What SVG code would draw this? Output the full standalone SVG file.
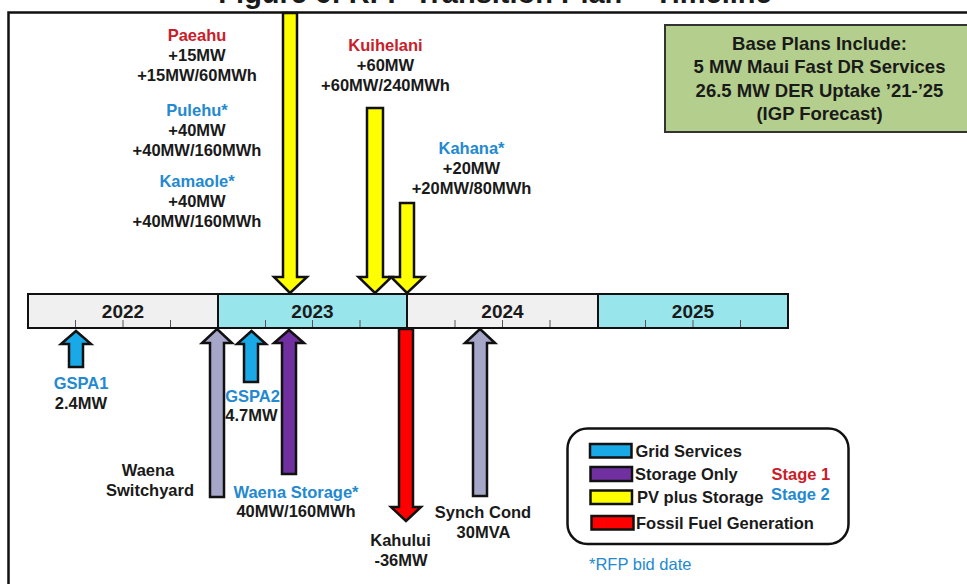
<svg xmlns="http://www.w3.org/2000/svg" width="967" height="584" viewBox="0 0 967 584">
<style>
text{font-family:"Liberation Sans",Arial,sans-serif;font-weight:bold;fill:#1a1a1a}
.c{text-anchor:middle}
.f{font-size:16.5px}
.red{fill:#c8202a}
.blue{fill:#2389d0}
.yr{font-size:19px}
.arr{stroke:#111;stroke-width:2.5;stroke-linejoin:miter}
.yel{fill:#ffff00}
.gs{fill:#19a9e6}
.st{fill:#7030a0}
.lav{fill:#a6a6c8}
.ff{fill:#ff0000}
.seg{stroke:#111;stroke-width:2}
.g{fill:#f0f0f0}
.cy{fill:#98e5ec}
.tick{stroke:#555;stroke-width:1}
</style>
<rect x="0" y="0" width="967" height="584" fill="#ffffff"/>
<text id="title" x="495" y="2.5" class="c" style="font-size:29px">Figure 6: RFP Transition Plan – Timeline</text>
<rect id="frame" x="8.5" y="12.5" width="1000" height="600" fill="none" stroke="#111" stroke-width="2.5"/>

<g id="base-plans">
<rect x="665" y="25" width="320" height="107" fill="#b4cf8d" stroke="#333" stroke-width="2"/>
<text x="819.5" y="50" class="c" style="font-size:18.5px">Base Plans Include:</text>
<text x="819.5" y="73" class="c" style="font-size:18.5px">5 MW Maui Fast DR Services</text>
<text x="819.5" y="97" class="c" style="font-size:18.5px">26.5 MW DER Uptake ’21-’25</text>
<text x="819.5" y="120" class="c" style="font-size:18.5px">(IGP Forecast)</text>
</g>

<g id="timeline">
<rect x="28" y="294" width="190" height="34" class="seg g"/>
<rect x="218" y="294" width="189" height="34" class="seg cy"/>
<rect x="407" y="294" width="191" height="34" class="seg g"/>
<rect x="598" y="294" width="190" height="34" class="seg cy"/>
<g class="tick">
<line x1="75.5" y1="320" x2="75.5" y2="327"/><line x1="123" y1="320" x2="123" y2="327"/><line x1="170.5" y1="320" x2="170.5" y2="327"/>
<line x1="265.5" y1="320" x2="265.5" y2="327"/><line x1="312.5" y1="320" x2="312.5" y2="327"/><line x1="360" y1="320" x2="360" y2="327"/>
<line x1="455" y1="320" x2="455" y2="327"/><line x1="502.5" y1="320" x2="502.5" y2="327"/><line x1="550" y1="320" x2="550" y2="327"/>
<line x1="645.5" y1="320" x2="645.5" y2="327"/><line x1="693" y1="320" x2="693" y2="327"/><line x1="740.5" y1="320" x2="740.5" y2="327"/>
</g>
<text x="123" y="318" class="c yr">2022</text>
<text x="312.5" y="318" class="c yr">2023</text>
<text x="502.5" y="318" class="c yr">2024</text>
<text x="693" y="318" class="c yr">2025</text>
</g>

<g id="connectors">
<polygon class="arr yel" points="283,13 297,13 297,277 307,277 290,293 274,277 283,277"/>
<polygon class="arr yel" points="367,108 383,108 383,277 391.5,277 375,293 358.5,277 367,277"/>
<polygon class="arr yel" points="400,203 414,203 414,277 424,277 407,293 391,277 400,277"/>
<polygon class="arr gs" points="76,331 91,344 83,344 83,367 69,367 69,344 61,344"/>
<polygon class="arr lav" points="217,329 232,343 224,343 224,497 210,497 210,343 202,343"/>
<polygon class="arr gs" points="251.5,331 266,344 258,344 258,382 244,382 244,344 237,344"/>
<polygon class="arr st" points="289,330 304,343 296,343 296,474 282,474 282,343 274,343"/>
<polygon class="arr ff" points="399,329 413,329 413,507 421,507 406,521 391,507 399,507"/>
<polygon class="arr lav" points="480,329 495,343 487,343 487,496 473,496 473,343 465,343"/>
</g>

<g id="paeahu">
<text x="197" y="40.5" class="c f red">Paeahu</text>
<text x="197" y="60.5" class="c f">+15MW</text>
<text x="197" y="80.5" class="c f">+15MW/60MWh</text>
</g>
<g id="pulehu">
<text x="197" y="115.5" class="c f blue">Pulehu*</text>
<text x="197" y="135.5" class="c f">+40MW</text>
<text x="197" y="155.5" class="c f">+40MW/160MWh</text>
</g>
<g id="kamaole">
<text x="197" y="187" class="c f blue">Kamaole*</text>
<text x="197" y="207" class="c f">+40MW</text>
<text x="197" y="227" class="c f">+40MW/160MWh</text>
</g>
<g id="kuihelani">
<text x="385.5" y="51" class="c f red">Kuihelani</text>
<text x="385.5" y="71" class="c f">+60MW</text>
<text x="385.5" y="91" class="c f">+60MW/240MWh</text>
</g>
<g id="kahana">
<text x="471.5" y="153.5" class="c f blue">Kahana*</text>
<text x="471.5" y="173.5" class="c f">+20MW</text>
<text x="471.5" y="193.5" class="c f">+20MW/80MWh</text>
</g>

<g id="gspa1">
<text x="81" y="389" class="c f blue">GSPA1</text>
<text x="81" y="408.5" class="c f">2.4MW</text>
</g>
<g id="gspa2">
<text x="252.5" y="401.5" class="c f blue">GSPA2</text>
<text x="251.5" y="421" class="c f">4.7MW</text>
</g>
<g id="waena-switchyard">
<text x="148" y="476" class="c f">Waena</text>
<text x="150" y="496" class="c f">Switchyard</text>
</g>
<g id="waena-storage">
<text x="296" y="497.5" class="c f blue">Waena Storage*</text>
<text x="296" y="517" class="c f">40MW/160MWh</text>
</g>
<g id="kahului">
<text x="400.5" y="546" class="c f">Kahului</text>
<text x="401" y="566" class="c f">-36MW</text>
</g>
<g id="synch-cond">
<text x="483" y="517.5" class="c f">Synch Cond</text>
<text x="483.5" y="537.5" class="c f">30MVA</text>
</g>

<g id="legend">
<rect x="567.5" y="428.5" width="281" height="115.5" rx="20" ry="20" fill="#fff" stroke="#111" stroke-width="2.5"/>
<rect x="590" y="444" width="41.5" height="13.5" class="gs" stroke="#111" stroke-width="2.5"/>
<rect x="590.5" y="467" width="41.5" height="14" class="st" stroke="#111" stroke-width="2.5"/>
<rect x="590.5" y="490.5" width="41.5" height="13.5" class="yel" stroke="#111" stroke-width="2.5"/>
<rect x="591.5" y="516" width="42" height="13.5" class="ff" stroke="#111" stroke-width="2.5"/>
<text x="635.5" y="457" class="f">Grid Services</text>
<text x="635" y="479.5" class="f">Storage Only</text>
<text x="637" y="503" class="f">PV plus Storage</text>
<text x="636" y="528.5" class="f">Fossil Fuel Generation</text>
<text x="771.5" y="479.5" class="f red">Stage 1</text>
<text x="771" y="500" class="f blue">Stage 2</text>
</g>
<text id="rfp-note" x="589" y="570" class="f blue" style="font-weight:normal">*RFP bid date</text>
</svg>
